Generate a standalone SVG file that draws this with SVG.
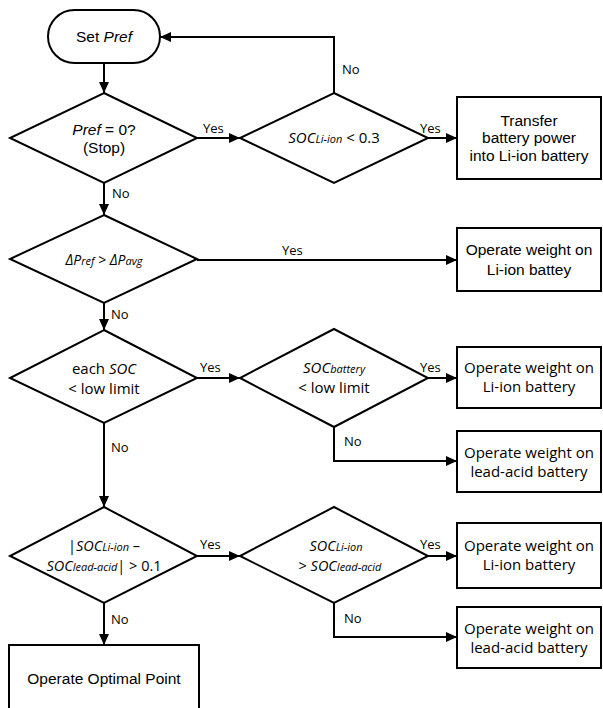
<svg xmlns="http://www.w3.org/2000/svg" width="603" height="708" viewBox="0 0 603 708">
<defs>
<marker id="ah" markerUnits="userSpaceOnUse" markerWidth="12" markerHeight="12" refX="11" refY="5" orient="auto">
<path d="M0,0 L11,5 L0,10 z" fill="#000"/>
</marker>
<style>
.sh{fill:#fff;stroke:#000;stroke-width:2}
.ln{fill:none;stroke:#000;stroke-width:2}
.ar{fill:#000;font-family:"Liberation Sans",Arial,sans-serif;font-size:15.5px;text-anchor:middle}
.mg{fill:#000;font-family:"Open Sans","Noto Sans",sans-serif;font-size:15px;text-anchor:middle}
.dm{font-size:14.5px}
.lb{fill:#000;font-family:"Open Sans","Noto Sans",sans-serif;font-size:13px}
.it{font-style:italic}
.sub{font-size:11px;font-style:italic}
</style>
</defs>
<rect width="603" height="708" fill="#fff"/>
<g id="connectors">
<path class="ln" d="M104,63 V93" marker-end="url(#ah)"/>
<path class="ln" d="M197,138 H240" marker-end="url(#ah)"/>
<path class="ln" d="M428,138 H457" marker-end="url(#ah)"/>
<path class="ln" d="M334,93 V37 H160" marker-end="url(#ah)"/>
<path class="ln" d="M104,183 V215" marker-end="url(#ah)"/>
<path class="ln" d="M197,260 H457" marker-end="url(#ah)"/>
<path class="ln" d="M104,303 V330" marker-end="url(#ah)"/>
<path class="ln" d="M197,378 H240" marker-end="url(#ah)"/>
<path class="ln" d="M428,378 H457" marker-end="url(#ah)"/>
<path class="ln" d="M334,427 V461 H457" marker-end="url(#ah)"/>
<path class="ln" d="M104,423 V507" marker-end="url(#ah)"/>
<path class="ln" d="M197,556 H240" marker-end="url(#ah)"/>
<path class="ln" d="M428,556 H457" marker-end="url(#ah)"/>
<path class="ln" d="M334,603 V637 H457" marker-end="url(#ah)"/>
<path class="ln" d="M104,603 V645" marker-end="url(#ah)"/>
<text class="lb" x="203" y="133">Yes</text>
<text class="lb" x="420" y="133">Yes</text>
<text class="lb" x="342" y="74">No</text>
<text class="lb" x="112" y="198">No</text>
<text class="lb" x="282" y="255">Yes</text>
<text class="lb" x="111" y="319">No</text>
<text class="lb" x="200" y="372">Yes</text>
<text class="lb" x="420" y="372">Yes</text>
<text class="lb" x="344" y="446">No</text>
<text class="lb" x="111" y="452">No</text>
<text class="lb" x="200" y="549">Yes</text>
<text class="lb" x="420" y="549">Yes</text>
<text class="lb" x="344" y="623">No</text>
<text class="lb" x="111" y="624">No</text>
</g>
<g id="start">
<rect class="sh" x="48" y="10" width="112" height="53" rx="26.5"/>
<text class="ar" x="104" y="42">Set <tspan class="it">Pref</tspan></text>
</g>
<g id="d1">
<polygon class="sh" points="104,93 197,138 104,183 10,138"/>
<text class="ar" x="104" y="135"><tspan class="it">Pref</tspan> = 0?</text>
<text class="ar" x="104" y="153">(Stop)</text>
</g>
<g id="d2">
<polygon class="sh" points="334,93 428,138 334,183 240,138"/>
<text class="mg" x="334" y="143"><tspan class="it">SOC</tspan><tspan class="sub">Li-ion</tspan> &lt; 0.3</text>
</g>
<g id="b1">
<rect class="sh" x="457" y="97" width="144" height="82"/>
<text class="ar" x="529" y="126">Transfer</text>
<text class="ar" x="529" y="143">battery power</text>
<text class="ar" x="529" y="161">into Li-ion battery</text>
</g>
<g id="d3">
<polygon class="sh" points="104,215 197,259 104,303 10,259"/>
<text class="mg it" x="104" y="265" style="font-size:14px">ΔP<tspan class="sub">ref</tspan> &gt;  ΔP<tspan class="sub">avg</tspan></text>
</g>
<g id="b2">
<rect class="sh" x="457" y="228" width="144" height="63"/>
<text class="ar" x="529" y="255">Operate weight on</text>
<text class="ar" x="529" y="275">Li-ion battey</text>
</g>
<g id="d4">
<polygon class="sh" points="104,330 197,378 104,423 10,378"/>
<text class="mg" x="104" y="374">each <tspan class="it">SOC</tspan></text>
<text class="mg" x="104" y="394">&lt; low limit</text>
</g>
<g id="d5">
<polygon class="sh" points="334,329 428,378 334,427 240,378"/>
<text class="mg" x="334" y="373"><tspan class="it">SOC</tspan><tspan class="sub">battery</tspan></text>
<text class="mg" x="334" y="393">&lt; low limit</text>
</g>
<g id="b3">
<rect class="sh" x="457" y="347" width="144" height="61"/>
<text class="mg" x="529" y="373">Operate weight on</text>
<text class="mg" x="529" y="392">Li-ion battery</text>
</g>
<g id="b4">
<rect class="sh" x="457" y="431" width="144" height="61"/>
<text class="mg" x="529" y="458">Operate weight on</text>
<text class="mg" x="529" y="477">lead-acid battery</text>
</g>
<g id="d6">
<polygon class="sh" points="104,507 197,556 104,603 10,556"/>
<text class="mg dm" x="104" y="551">|<tspan class="it">SOC</tspan><tspan class="sub">Li-ion</tspan> –</text>
<text class="mg dm" x="104" y="571"><tspan class="it">SOC</tspan><tspan class="sub">lead-acid</tspan>|  &gt; 0.1</text>
</g>
<g id="d7">
<polygon class="sh" points="334,507 428,556 334,603 240,556"/>
<text class="mg dm" x="336" y="551"><tspan class="it">SOC</tspan><tspan class="sub">Li-ion</tspan></text>
<text class="mg dm" x="340" y="571">&gt; <tspan class="it">SOC</tspan><tspan class="sub">lead-acid</tspan></text>
</g>
<g id="b5">
<rect class="sh" x="457" y="523" width="144" height="65"/>
<text class="mg" x="529" y="551">Operate weight on</text>
<text class="mg" x="529" y="570">Li-ion battery</text>
</g>
<g id="b6">
<rect class="sh" x="457" y="607" width="144" height="61"/>
<text class="mg" x="529" y="634">Operate weight on</text>
<text class="mg" x="529" y="653">lead-acid battery</text>
</g>
<g id="b7">
<rect class="sh" x="9" y="645" width="190" height="70"/>
<text class="ar" x="104" y="684">Operate Optimal Point</text>
</g>
</svg>
